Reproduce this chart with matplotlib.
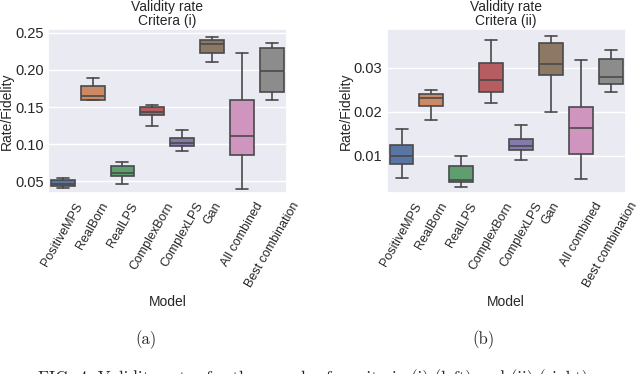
import numpy as np
import matplotlib
matplotlib.use('Agg')
import matplotlib.pyplot as plt
import seaborn as sns

models = ['PositiveMPS', 'RealBorn', 'RealLPS', 'ComplexBorn', 'ComplexLPS',
          'Gan', 'All combined', 'Best combination']

# criterion (i): whisker low, q1, median, q3, whisker high
c1_low = [0.041, 0.159, 0.047, 0.124, 0.091, 0.211, 0.040, 0.159]
c1_q1 = [0.044, 0.160, 0.057, 0.139, 0.097, 0.223, 0.085, 0.170]
c1_med = [0.047, 0.165, 0.061, 0.143, 0.101, 0.235, 0.111, 0.199]
c1_q3 = [0.052, 0.178, 0.070, 0.150, 0.108, 0.240, 0.159, 0.229]
c1_high = [0.055, 0.189, 0.076, 0.153, 0.119, 0.244, 0.223, 0.236]

# criterion (ii)
c2_low = [0.0049, 0.0181, 0.0030, 0.0220, 0.0090, 0.0199, 0.0046, 0.0245]
c2_q1 = [0.0082, 0.0213, 0.0040, 0.0245, 0.0112, 0.0284, 0.0104, 0.0262]
c2_med = [0.0100, 0.0232, 0.0044, 0.0271, 0.0122, 0.0308, 0.0163, 0.0279]
c2_q3 = [0.0125, 0.0241, 0.0077, 0.0311, 0.0137, 0.0355, 0.0211, 0.0319]
c2_high = [0.0161, 0.0250, 0.0100, 0.0362, 0.0170, 0.0373, 0.0318, 0.0341]

sns.set_theme(style='darkgrid', palette='deep')
sans = ['Liberation Sans', 'Arimo', 'DejaVu Sans']
plt.rcParams['font.family'] = sans
plt.rcParams['font.sans-serif'] = sans

colors = sns.color_palette('deep', len(models), desat=0.75)
gray = '#4a4a4a'


def draw(ax, low, q1, med, q3, high, title, ylim, yticks, ylabels):
    stats = [dict(whislo=a, q1=b, med=c, q3=d, whishi=e, fliers=[])
             for a, b, c, d, e in zip(low, q1, med, q3, high)]
    lw = 1.2
    bp = ax.bxp(stats, positions=np.arange(len(models)), widths=0.8,
                patch_artist=True, showfliers=False,
                boxprops=dict(edgecolor=gray, linewidth=lw),
                medianprops=dict(color=gray, linewidth=lw),
                whiskerprops=dict(color=gray, linewidth=lw),
                capprops=dict(color=gray, linewidth=lw))
    for patch, col in zip(bp['boxes'], colors):
        patch.set_facecolor(col)
    ax.set_xlim(-0.5, len(models) - 0.5)
    ax.set_ylim(*ylim)
    ax.set_yticks(yticks)
    ax.set_yticklabels(ylabels, fontsize=10.5, family=sans)
    ax.set_xticks(np.arange(len(models)))
    ax.set_xticklabels(models, rotation=60, ha='center', fontsize=9, family=sans)
    ax.xaxis.grid(False)
    ax.tick_params(axis='both', length=0)
    ax.tick_params(axis='x', pad=5)
    ax.tick_params(axis='y', pad=3)
    ax.set_title(title, fontsize=10, pad=3, linespacing=1.0, family=sans)
    ax.set_ylabel('Rate/Fidelity', fontsize=10, labelpad=1, family=sans)
    ax.set_xlabel('Model', fontsize=10, labelpad=4, family=sans)


fig = plt.figure(figsize=(6.4, 3.74), dpi=100)
ax1 = fig.add_axes([0.0745, 0.483, 0.374, 0.4385])
ax2 = fig.add_axes([0.604, 0.483, 0.374, 0.4385])

draw(ax1, c1_low, c1_q1, c1_med, c1_q3, c1_high, 'Validity rate\nCritera (i)',
     (0.0338, 0.2546), [0.05, 0.10, 0.15, 0.20, 0.25],
     ['0.05', '0.10', '0.15', '0.20', '0.25'])
draw(ax2, c2_low, c2_q1, c2_med, c2_q3, c2_high, 'Validity rate\nCritera (ii)',
     (0.00145, 0.0387), [0.01, 0.02, 0.03], ['0.01', '0.02', '0.03'])

fig.text(146 / 640, 1 - 340 / 374, '(a)', family='cmr10', fontsize=12,
         ha='center', va='center')
fig.text(483 / 640, 1 - 340 / 374, '(b)', family='cmr10', fontsize=12,
         ha='center', va='center')
fig.text(38 / 640, 1 - 369 / 374,
         'FIG. 4. Validity rates for the samples for criteria (i) (left) and (ii) (right).',
         family='cmr10', fontsize=12.3, ha='left', va='top')

fig.savefig('out.png', dpi=100)
